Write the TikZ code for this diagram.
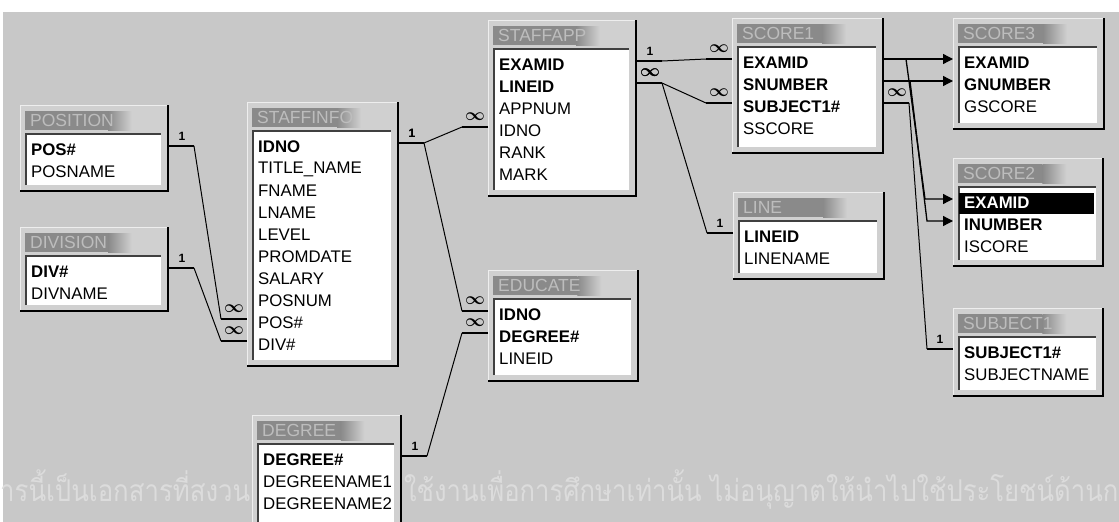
\documentclass[tikz,border=0pt]{standalone}
\usepackage{fontspec}
\setmainfont{Liberation Sans}
\newfontfamily\thaifont[Script=Thai]{Loma}
\usetikzlibrary{calc,arrows.meta}
\definecolor{deskgray}{HTML}{C8C8C8}
\definecolor{framegray}{HTML}{D0D0D0}
\definecolor{framelight}{HTML}{EEEEEE}
\definecolor{titlegray}{HTML}{8A8A8A}
\definecolor{titletext}{HTML}{BDBDBD}
\definecolor{markgray}{HTML}{DCDCDC}

\begin{document}
\begin{tikzpicture}[x=1pt, y=-1pt,
  tablebox/.style={fill=framegray, draw=framelight, line width=1pt, inner sep=0pt, anchor=north west},
  rim/.style={draw=black, line width=1.8pt},
  body/.style={fill=white},
  inset/.style={draw=black!75, line width=1.6pt},
  plain/.style={anchor=west, inner sep=0pt, font=\fontsize{16.8}{19}\selectfont},
  key/.style={plain, font=\fontsize{16.8}{19}\selectfont\bfseries},
  pick/.style={key, text=white, fill=black, xshift=-5pt, inner xsep=5pt, text width=125pt, minimum height=21pt},
  tabletitle/.style={anchor=west, inner sep=0pt, text=titletext, font=\fontsize{17.5}{20}\selectfont},
  watermark/.style={anchor=base west, inner sep=0pt, text=markgray, font=\thaifont\fontsize{30}{32}\selectfont},
  bar/.style={line width=2.8pt},
  link/.style={line width=1pt},
  joinline/.style={line width=1.3pt, -{Triangle[length=10pt,width=10pt]}},
  card/.style={inner sep=0pt, font=\fontsize{12}{13}\selectfont\bfseries},
  many/.style={inner sep=0pt, font=\fontsize{16}{16}\selectfont\boldmath}
]
\useasboundingbox (0,0) rectangle (1119,522);
\clip (0,0) rectangle (1119,522);
\fill[white] (0,0) rectangle (1119,522);
\fill[deskgray] (3,12) rectangle (1119,522);

% watermark, partly hidden by DEGREE
\node[watermark] (mark-left) at (0,501) {\resizebox{250pt}{\height}{ารนี้เป็นเอกสารที่สงวน}};
\node[watermark] (mark-right) at (404,501) {\resizebox{714pt}{\height}{ใช้งานเพื่อการศึกษาเท่านั้น ไม่อนุญาตให้นำไปใช้ประโยชน์ด้านก}};

% tables: frame, title bar, white field area
\foreach \t/\l/\tp/\r/\b/\name in {
  position/20/105/167/190/POSITION, division/20/227/167/310/DIVISION,
  staffinfo/247/102/397/365/STAFFINFO, degree/252/415/400/545/DEGREE,
  staffapp/488/20/635/195/STAFFAPP, educate/488/270/637/380/EDUCATE,
  score1/732/18/882/152/SCORE1, line/733/192/883/278/LINE,
  score3/953/18/1103/128/SCORE3, score2/953/158/1102/265/SCORE2,
  subject1/953/308/1102/395/SUBJECT1} {
  \node[tablebox, minimum width=\r-\l, minimum height=\b-\tp] (\t) at (\l,\tp) {};
  \draw[rim] (\t.north east) -- (\t.south east) -- (\t.south west);
  \fill[titlegray] (\l+5,\tp+6) rectangle ({\l+0.6*(\r-\l)},\tp+25);
  \shade[left color=titlegray, right color=framegray] ({\l+0.6*(\r-\l)},\tp+6) rectangle ({\l+0.76*(\r-\l)},\tp+25);
  \node[tabletitle] (\t-title) at (\l+10,\tp+15.5) {\name};
  \fill[body] (\l+6,\tp+29) rectangle (\r-6,\b-5);
  \draw[inset] (\l+6,\b-5) -- (\l+6,\tp+29) -- (\r-6,\tp+29);
}

% fields
\foreach \t/\i/\s/\f in {
  position/1/key/POS\#, position/2/plain/POSNAME,
  division/1/key/DIV\#, division/2/plain/DIVNAME,
  staffinfo/1/key/IDNO, staffinfo/2/plain/TITLE\_NAME, staffinfo/3/plain/FNAME, staffinfo/4/plain/LNAME,
  staffinfo/5/plain/LEVEL, staffinfo/6/plain/PROMDATE, staffinfo/7/plain/SALARY, staffinfo/8/plain/POSNUM,
  staffinfo/9/plain/POS\#, staffinfo/10/plain/DIV\#,
  degree/1/key/DEGREE\#, degree/2/plain/DEGREENAME1, degree/3/plain/DEGREENAME2,
  staffapp/1/key/EXAMID, staffapp/2/key/LINEID, staffapp/3/plain/APPNUM, staffapp/4/plain/IDNO,
  staffapp/5/plain/RANK, staffapp/6/plain/MARK,
  educate/1/key/IDNO, educate/2/key/DEGREE\#, educate/3/plain/LINEID,
  score1/1/key/EXAMID, score1/2/key/SNUMBER, score1/3/key/SUBJECT1\#, score1/4/plain/SSCORE,
  line/1/key/LINEID, line/2/plain/LINENAME,
  score3/1/key/EXAMID, score3/2/key/GNUMBER, score3/3/plain/GSCORE,
  score2/1/pick/EXAMID, score2/2/key/INUMBER, score2/3/plain/ISCORE,
  subject1/1/key/SUBJECT1\#, subject1/2/plain/SUBJECTNAME} {
  \node[\s] (\t-\i) at ($(\t.north west)+(11,{45+22*(\i-1)})$) {\f};
  \coordinate (\t-\i-l) at ($(\t-\i.center -| \t.west)+(0,-4)$);
  \coordinate (\t-\i-r) at ($(\t-\i.center -| \t.east)+(0,-4)$);
}

% relationships with 1 / many ends
\foreach \a/\b/\sa/\ma/\sb/\mb in {position-1/staffinfo-9/card/1/many/$\infty$, division-1/staffinfo-10/card/1/many/$\infty$,
    staffinfo-1/staffapp-4/card/1/many/$\infty$, staffinfo-1/educate-1/card/1/many/$\infty$,
    degree-1/educate-2/card/1/many/$\infty$, staffapp-1/score1-1/card/1/many/$\infty$,
    staffapp-2/score1-3/many/$\infty$/many/$\infty$, staffapp-2/line-1/many/$\infty$/card/1,
    score1-3/subject1-1/many/$\infty$/card/1} {
  \draw[bar] (\a-r) -- ++(26,0) coordinate (\a-out);
  \draw[bar] (\b-l) -- ++(-26,0) coordinate (\b-in);
  \draw[link] (\a-out) -- (\b-in);
  \node[\sa] (\a-\b-ma) at ($(\a-r)+(14,-10)$) {\ma};
  \node[\sb] (\a-\b-mb) at ($(\b-l)+(-13,-10)$) {\mb};
}

% joins with arrows
\draw[joinline] (score1-1-r) -- (score3-1-l);
\draw[joinline] (score1-2-r) -- (score3-2-l);
\draw[joinline] (score1-1-r) -- ++(23,0) -- ($(score2-1-l)+(-28,0)$) -- (score2-1-l);
\draw[joinline] (score1-2-r) -- ++(27,0) -- ($(score2-2-l)+(-26,0)$) -- (score2-2-l);
\end{tikzpicture}
\end{document}
